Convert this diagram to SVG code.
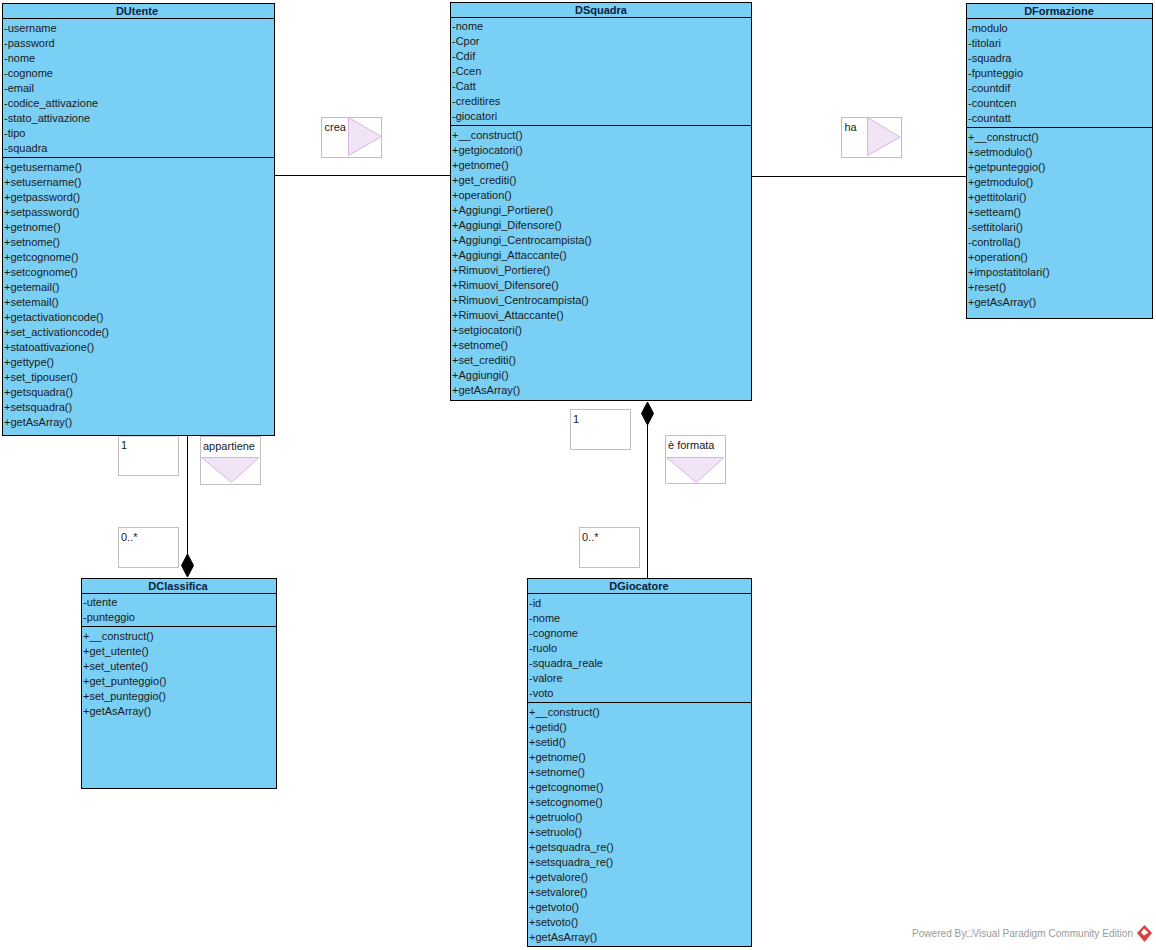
<svg xmlns="http://www.w3.org/2000/svg" width="1156" height="950" viewBox="0 0 1156 950">
<style>
text{font-family:"Liberation Sans",Arial,sans-serif;font-size:11px;fill:#1a1a1a}
.box{fill:#7acff5;stroke:#000;stroke-width:1}
.sep{stroke:#000;stroke-width:1;fill:none}
.title{font-weight:bold;text-anchor:middle;fill:#0d2240}
.lab{fill:#fff;stroke:#c0c0c0;stroke-width:1}
.tri{fill:#f2e4f7;stroke:#d9b3e0;stroke-width:1}
.con{stroke:#000;stroke-width:1;fill:none}
.dia{fill:#000;stroke:#000}
.wm{fill:#9a9a9a;font-size:11px}
</style>
<rect width="1156" height="950" fill="#fff"/>
<g id="connectors">
<line class="con" x1="275" y1="175.500" x2="450" y2="175.500"/>
<line class="con" x1="752" y1="176.500" x2="966" y2="176.500"/>
<line class="con" x1="187.500" y1="436" x2="187.500" y2="555"/>
<path class="dia" d="M187.500 554L181.500 565.500L187.500 577L193.500 565.500Z"/>
<line class="con" x1="647.500" y1="424" x2="647.500" y2="578"/>
<path class="dia" d="M647.500 402L641.500 413.500L647.500 425L653.500 413.500Z"/>
</g>
<g id="label-crea">
<rect class="lab" x="321.500" y="117.500" width="60" height="40"/>
<path class="tri" d="M348.500 117.500L381.500 136.500L348.500 155.500Z"/>
<text x="324.500" y="131">crea</text>
</g>
<g id="label-ha">
<rect class="lab" x="841.500" y="117.500" width="60" height="40"/>
<path class="tri" d="M867.500 117.500L900 137L867.500 155.500Z"/>
<text x="844.500" y="131">ha</text>
</g>
<g id="label-appartiene">
<rect class="lab" x="200.500" y="436.500" width="60" height="48"/>
<path class="tri" d="M201.500 457.500H259L231.500 482.500Z"/>
<text x="203" y="450">appartiene</text>
</g>
<g id="label-formata">
<rect class="lab" x="665.500" y="435.500" width="60" height="48"/>
<path class="tri" d="M666.500 457.500H724L696.500 482.500Z"/>
<text x="668" y="449">è formata</text>
</g>
<g id="mult-1-utente"><rect class="lab" x="118.500" y="436" width="60" height="39.500"/><text x="121" y="449">1</text></g>
<g id="mult-0-classifica"><rect class="lab" x="118.500" y="527.500" width="60" height="40"/><text x="121" y="541">0..*</text></g>
<g id="mult-1-squadra"><rect class="lab" x="570.500" y="409.500" width="60" height="40"/><text x="573" y="423">1</text></g>
<g id="mult-0-giocatore"><rect class="lab" x="579.500" y="527.500" width="60" height="40"/><text x="582" y="541">0..*</text></g>
<g id="DUtente">
<rect class="box" x="2.500" y="3.500" width="272" height="432"/>
<line class="sep" x1="2.500" y1="18.500" x2="274.500" y2="18.500"/>
<line class="sep" x1="2.500" y1="157.500" x2="274.500" y2="157.500"/>
<text class="title" x="137" y="15">DUtente</text>
<text x="4" y="32">-username</text>
<text x="4" y="47">-password</text>
<text x="4" y="62">-nome</text>
<text x="4" y="77">-cognome</text>
<text x="4" y="92">-email</text>
<text x="4" y="107">-codice_attivazione</text>
<text x="4" y="122">-stato_attivazione</text>
<text x="4" y="137">-tipo</text>
<text x="4" y="152">-squadra</text>
<text x="4" y="171">+getusername()</text>
<text x="4" y="186">+setusername()</text>
<text x="4" y="201">+getpassword()</text>
<text x="4" y="216">+setpassword()</text>
<text x="4" y="231">+getnome()</text>
<text x="4" y="246">+setnome()</text>
<text x="4" y="261">+getcognome()</text>
<text x="4" y="276">+setcognome()</text>
<text x="4" y="291">+getemail()</text>
<text x="4" y="306">+setemail()</text>
<text x="4" y="321">+getactivationcode()</text>
<text x="4" y="336">+set_activationcode()</text>
<text x="4" y="351">+statoattivazione()</text>
<text x="4" y="366">+gettype()</text>
<text x="4" y="381">+set_tipouser()</text>
<text x="4" y="396">+getsquadra()</text>
<text x="4" y="411">+setsquadra()</text>
<text x="4" y="426">+getAsArray()</text>
</g>
<g id="DSquadra">
<rect class="box" x="450.500" y="2.500" width="301" height="398"/>
<line class="sep" x1="450.500" y1="17.500" x2="751.500" y2="17.500"/>
<line class="sep" x1="450.500" y1="125.500" x2="751.500" y2="125.500"/>
<text class="title" x="601" y="14">DSquadra</text>
<text x="452" y="30">-nome</text>
<text x="452" y="45">-Cpor</text>
<text x="452" y="60">-Cdif</text>
<text x="452" y="75">-Ccen</text>
<text x="452" y="90">-Catt</text>
<text x="452" y="105">-creditires</text>
<text x="452" y="120">-giocatori</text>
<text x="452" y="139">+__construct()</text>
<text x="452" y="154">+getgiocatori()</text>
<text x="452" y="169">+getnome()</text>
<text x="452" y="184">+get_crediti()</text>
<text x="452" y="199">+operation()</text>
<text x="452" y="214">+Aggiungi_Portiere()</text>
<text x="452" y="229">+Aggiungi_Difensore()</text>
<text x="452" y="244">+Aggiungi_Centrocampista()</text>
<text x="452" y="259">+Aggiungi_Attaccante()</text>
<text x="452" y="274">+Rimuovi_Portiere()</text>
<text x="452" y="289">+Rimuovi_Difensore()</text>
<text x="452" y="304">+Rimuovi_Centrocampista()</text>
<text x="452" y="319">+Rimuovi_Attaccante()</text>
<text x="452" y="334">+setgiocatori()</text>
<text x="452" y="349">+setnome()</text>
<text x="452" y="364">+set_crediti()</text>
<text x="452" y="379">+Aggiungi()</text>
<text x="452" y="394">+getAsArray()</text>
</g>
<g id="DFormazione">
<rect class="box" x="966.500" y="3.500" width="186" height="315"/>
<line class="sep" x1="966.500" y1="18.500" x2="1152.500" y2="18.500"/>
<line class="sep" x1="966.500" y1="127.500" x2="1152.500" y2="127.500"/>
<text class="title" x="1059" y="15">DFormazione</text>
<text x="968" y="32">-modulo</text>
<text x="968" y="47">-titolari</text>
<text x="968" y="62">-squadra</text>
<text x="968" y="77">-fpunteggio</text>
<text x="968" y="92">-countdif</text>
<text x="968" y="107">-countcen</text>
<text x="968" y="122">-countatt</text>
<text x="968" y="141">+__construct()</text>
<text x="968" y="156">+setmodulo()</text>
<text x="968" y="171">+getpunteggio()</text>
<text x="968" y="186">+getmodulo()</text>
<text x="968" y="201">+gettitolari()</text>
<text x="968" y="216">+setteam()</text>
<text x="968" y="231">-settitolari()</text>
<text x="968" y="246">-controlla()</text>
<text x="968" y="261">+operation()</text>
<text x="968" y="276">+impostatitolari()</text>
<text x="968" y="291">+reset()</text>
<text x="968" y="306">+getAsArray()</text>
</g>
<g id="DClassifica">
<rect class="box" x="81.500" y="578.500" width="195" height="210"/>
<line class="sep" x1="81.500" y1="593.500" x2="276.500" y2="593.500"/>
<line class="sep" x1="81.500" y1="626.500" x2="276.500" y2="626.500"/>
<text class="title" x="178" y="590">DClassifica</text>
<text x="83" y="606">-utente</text>
<text x="83" y="621">-punteggio</text>
<text x="83" y="640">+__construct()</text>
<text x="83" y="655">+get_utente()</text>
<text x="83" y="670">+set_utente()</text>
<text x="83" y="685">+get_punteggio()</text>
<text x="83" y="700">+set_punteggio()</text>
<text x="83" y="715">+getAsArray()</text>
</g>
<g id="DGiocatore">
<rect class="box" x="527.500" y="578.500" width="224" height="368"/>
<line class="sep" x1="527.500" y1="593.500" x2="751.500" y2="593.500"/>
<line class="sep" x1="527.500" y1="702.500" x2="751.500" y2="702.500"/>
<text class="title" x="639" y="590">DGiocatore</text>
<text x="529" y="607">-id</text>
<text x="529" y="622">-nome</text>
<text x="529" y="637">-cognome</text>
<text x="529" y="652">-ruolo</text>
<text x="529" y="667">-squadra_reale</text>
<text x="529" y="682">-valore</text>
<text x="529" y="697">-voto</text>
<text x="529" y="716">+__construct()</text>
<text x="529" y="731">+getid()</text>
<text x="529" y="746">+setid()</text>
<text x="529" y="761">+getnome()</text>
<text x="529" y="776">+setnome()</text>
<text x="529" y="791">+getcognome()</text>
<text x="529" y="806">+setcognome()</text>
<text x="529" y="821">+getruolo()</text>
<text x="529" y="836">+setruolo()</text>
<text x="529" y="851">+getsquadra_re()</text>
<text x="529" y="866">+setsquadra_re()</text>
<text x="529" y="881">+getvalore()</text>
<text x="529" y="896">+setvalore()</text>
<text x="529" y="911">+getvoto()</text>
<text x="529" y="926">+setvoto()</text>
<text x="529" y="941">+getAsArray()</text>
</g>
<g id="watermark">
<text class="wm" x="912" y="937" textLength="221" lengthAdjust="spacingAndGlyphs">Powered By□Visual Paradigm Community Edition</text>
<path d="M1144.500 925L1152 933L1144.500 942L1137 933Z" fill="#d8423c"/>
<path d="M1144 928.500L1148.500 932.500L1144 935.500L1141 932.500Z" fill="#fff"/>
</g>
</svg>
